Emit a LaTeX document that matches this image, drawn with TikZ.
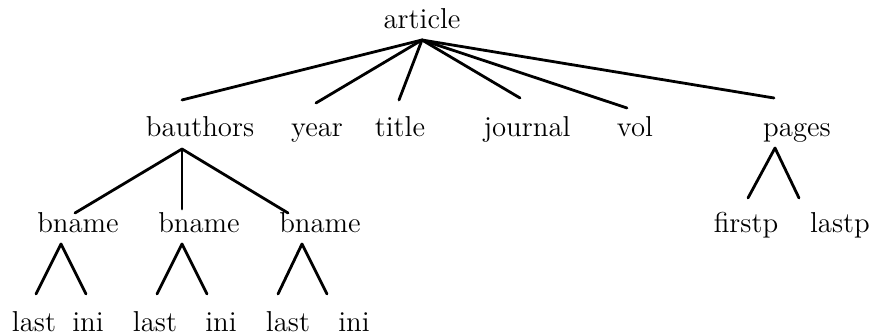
\documentclass[tikz,border=0pt]{standalone}
\begin{document}
\begin{tikzpicture}[x=0.5pt,y=-0.5pt,
  lbl/.style={anchor=base,inner sep=0pt,font=\Large},
  edge/.style={line width=1.4pt,line cap=round,line join=round}]
\useasboundingbox (0,0) rectangle (874,335);

% labels
\node[lbl] (article)  at (422,29)  {article};
\node[lbl] (bauthors) at (200,137) {bauthors};
\node[lbl] (year)     at (317,137) {year};
\node[lbl] (title)    at (400,137) {title};
\node[lbl] (journal)  at (527,137) {journal};
\node[lbl] (vol)      at (635,137) {vol};
\node[lbl] (pages)    at (797,137) {pages};
\node[lbl] (bn1)      at (78,233)  {bname};
\node[lbl] (bn2)      at (199,233) {bname};
\node[lbl] (bn3)      at (320,233) {bname};
\node[lbl] (firstp)   at (746,233) {firstp};
\node[lbl] (lastp)    at (840,233) {lastp};
\node[lbl] (last1)    at (34,332)  {last};
\node[lbl] (ini1)     at (88,332)  {ini};
\node[lbl] (last2)    at (155,332) {last};
\node[lbl] (ini2)     at (221,332) {ini};
\node[lbl] (last3)    at (288,332) {last};
\node[lbl] (ini3)     at (354,332) {ini};

% branching points below parents
\coordinate (article-j)  at (422,40);
\coordinate (bauthors-j) at (182,149);
\coordinate (pages-j)    at (775,148);
\coordinate (bn1-j)      at (61,244);
\coordinate (bn2-j)      at (182,244);
\coordinate (bn3-j)      at (302,244);

% tops of children
\coordinate (bauthors-t) at (182,100);
\coordinate (year-t)     at (316,103);
\coordinate (title-t)    at (399,100);
\coordinate (journal-t)  at (520,98);
\coordinate (vol-t)      at (627,108);
\coordinate (pages-t)    at (774,98);
\coordinate (bn1-t)      at (75,213);
\coordinate (bn2-t)      at (182,209);
\coordinate (bn3-t)      at (288,213);
\coordinate (firstp-t)   at (748,198);
\coordinate (lastp-t)    at (799,198);
\coordinate (last1-t)    at (36,294);
\coordinate (ini1-t)     at (86,294);
\coordinate (last2-t)    at (157,294);
\coordinate (ini2-t)     at (207,294);
\coordinate (last3-t)    at (278,294);
\coordinate (ini3-t)     at (327,294);

% edges
\foreach \c in {bauthors,year,title,journal,vol,pages}
  \draw[edge] (article-j) -- (\c-t);
\foreach \c in {bn1,bn2,bn3}
  \draw[edge] (bauthors-j) -- (\c-t);
\draw[edge] (firstp-t) -- (pages-j) -- (lastp-t);
\draw[edge] (last1-t) -- (bn1-j) -- (ini1-t);
\draw[edge] (last2-t) -- (bn2-j) -- (ini2-t);
\draw[edge] (last3-t) -- (bn3-j) -- (ini3-t);
\end{tikzpicture}
\end{document}
